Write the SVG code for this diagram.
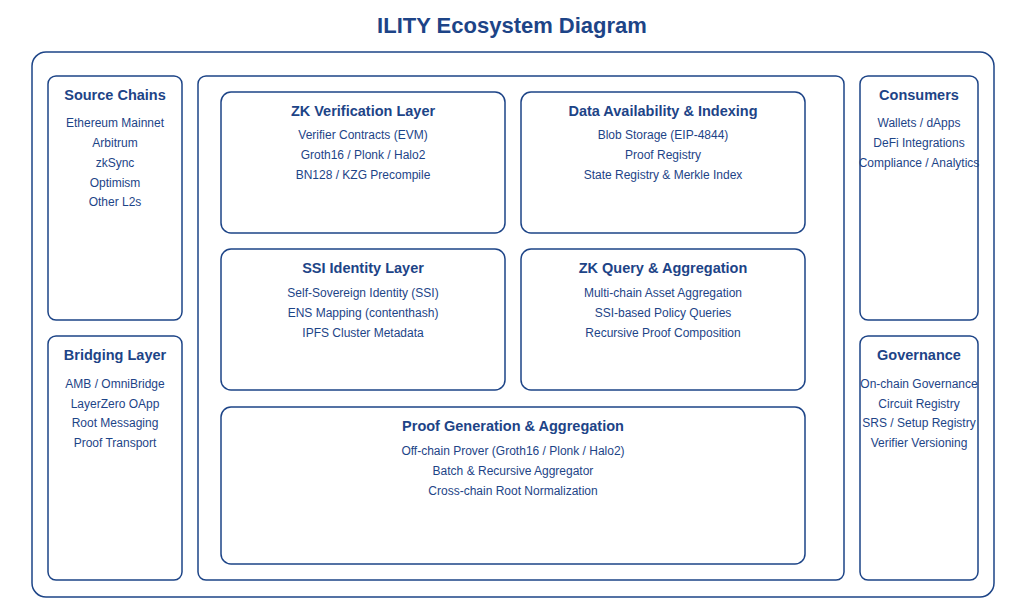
<svg xmlns="http://www.w3.org/2000/svg" width="1024" height="610" viewBox="0 0 1024 610">
<style>
rect{fill:#fff;stroke:#1d4487;stroke-width:1.5}
text{font-family:"Liberation Sans",Arial,sans-serif;fill:#1d4487;text-anchor:middle}
.t{font-size:14.5px;font-weight:bold}
.i{font-size:12px}
.h{font-size:22px;font-weight:bold}
</style>
<rect x="0" y="0" width="1024" height="610" style="stroke:none"/>
<text class="h" x="512" y="33">ILITY Ecosystem Diagram</text>
<rect x="32" y="52" width="962" height="545" rx="14"/>
<g id="source"><rect x="48" y="76" width="134" height="244" rx="8"/>
<text class="t" x="115" y="100">Source Chains</text>
<text class="i" x="115" y="127">Ethereum Mainnet</text><text class="i" x="115" y="147">Arbitrum</text><text class="i" x="115" y="167">zkSync</text><text class="i" x="115" y="187">Optimism</text><text class="i" x="115" y="206">Other L2s</text></g>
<g id="bridging"><rect x="48" y="336" width="134" height="244" rx="8"/>
<text class="t" x="115" y="360">Bridging Layer</text>
<text class="i" x="115" y="388">AMB / OmniBridge</text><text class="i" x="115" y="408">LayerZero OApp</text><text class="i" x="115" y="427">Root Messaging</text><text class="i" x="115" y="447">Proof Transport</text></g>
<rect x="198" y="76" width="646" height="504" rx="8"/>
<g id="zkver"><rect x="221" y="92" width="284" height="141" rx="10"/>
<text class="t" x="363" y="116">ZK Verification Layer</text>
<text class="i" x="363" y="139">Verifier Contracts (EVM)</text><text class="i" x="363" y="159">Groth16 / Plonk / Halo2</text><text class="i" x="363" y="179">BN128 / KZG Precompile</text></g>
<g id="da"><rect x="521" y="92" width="284" height="141" rx="10"/>
<text class="t" x="663" y="116">Data Availability &amp; Indexing</text>
<text class="i" x="663" y="139">Blob Storage (EIP-4844)</text><text class="i" x="663" y="159">Proof Registry</text><text class="i" x="663" y="179">State Registry &amp; Merkle Index</text></g>
<g id="ssi"><rect x="221" y="249" width="284" height="141" rx="10"/>
<text class="t" x="363" y="273">SSI Identity Layer</text>
<text class="i" x="363" y="297">Self-Sovereign Identity (SSI)</text><text class="i" x="363" y="317">ENS Mapping (contenthash)</text><text class="i" x="363" y="337">IPFS Cluster Metadata</text></g>
<g id="zkq"><rect x="521" y="249" width="284" height="141" rx="10"/>
<text class="t" x="663" y="273">ZK Query &amp; Aggregation</text>
<text class="i" x="663" y="297">Multi-chain Asset Aggregation</text><text class="i" x="663" y="317">SSI-based Policy Queries</text><text class="i" x="663" y="337">Recursive Proof Composition</text></g>
<g id="proofgen"><rect x="221" y="407" width="584" height="157" rx="10"/>
<text class="t" x="513" y="431">Proof Generation &amp; Aggregation</text>
<text class="i" x="513" y="455">Off-chain Prover (Groth16 / Plonk / Halo2)</text><text class="i" x="513" y="475">Batch &amp; Recursive Aggregator</text><text class="i" x="513" y="495">Cross-chain Root Normalization</text></g>
<g id="consumers"><rect x="860" y="76" width="118" height="244" rx="8"/>
<text class="t" x="919" y="100">Consumers</text>
<text class="i" x="919" y="127">Wallets / dApps</text><text class="i" x="919" y="147">DeFi Integrations</text><text class="i" x="919" y="167">Compliance / Analytics</text></g>
<g id="governance"><rect x="860" y="336" width="118" height="244" rx="8"/>
<text class="t" x="919" y="360">Governance</text>
<text class="i" x="919" y="388">On-chain Governance</text><text class="i" x="919" y="408">Circuit Registry</text><text class="i" x="919" y="427">SRS / Setup Registry</text><text class="i" x="919" y="447">Verifier Versioning</text></g>
<g id="connectors"></g>
</svg>
